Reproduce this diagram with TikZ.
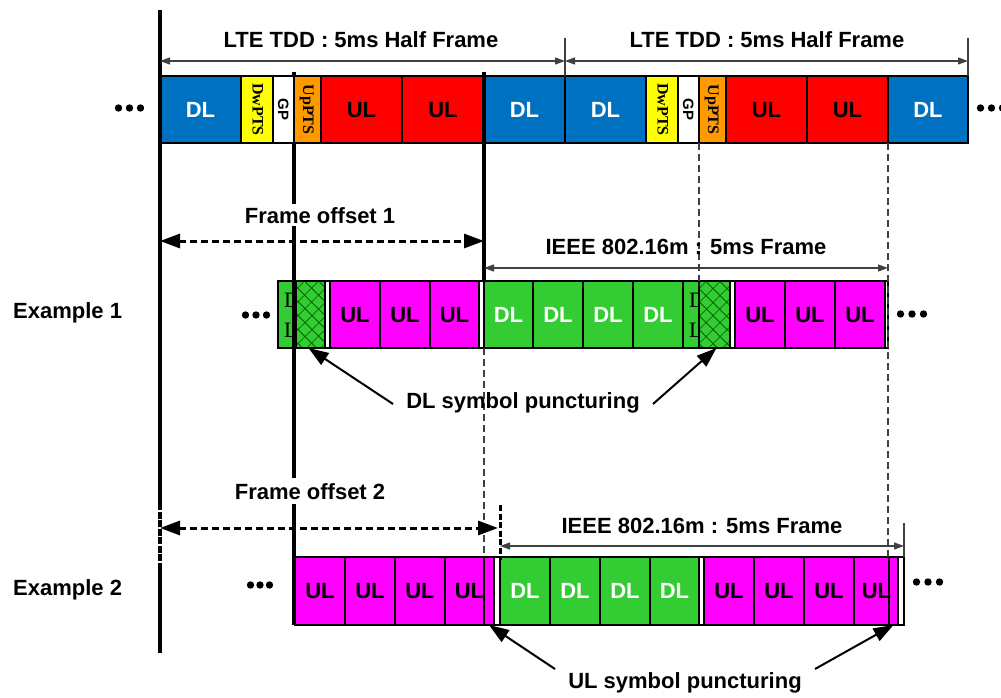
\documentclass[tikz,border=0pt]{standalone}
\usepackage{fontspec}
\setmainfont{Liberation Sans}
\newfontfamily\tnr{Liberation Serif}
\usetikzlibrary{arrows.meta,patterns.meta}
\definecolor{dlblue}{RGB}{0,112,192}
\definecolor{ylw}{RGB}{255,255,0}
\definecolor{orng}{RGB}{255,153,0}
\definecolor{ulred}{RGB}{255,0,0}
\definecolor{lgreen}{RGB}{51,204,51}
\definecolor{mgnt}{RGB}{255,0,255}
\definecolor{hatchcol}{RGB}{0,85,0}
\definecolor{agray}{RGB}{64,64,64}
\newcommand\mkcell[7]{%
  \pgfmathsetmacro\cw{#3-#2}\pgfmathsetmacro\ch{#5-#4}%
  \node[cell,#6,minimum width=\cw pt,minimum height=\ch pt] (#1) at ({(#2+#3)/2},{(#4+#5)/2}) {#7};}
\begin{document}
\begin{tikzpicture}[x=1pt,y=-1pt,
  cell/.style={draw=black,line width=1.2pt,inner sep=0pt,outer sep=0pt,
    font=\bfseries\fontsize{22}{26}\selectfont,text height=15.75pt,text depth=0pt},
  dlst/.style={fill=dlblue,text=white},
  rst/.style={fill=ulred},
  yst/.style={fill=ylw},
  ost/.style={fill=orng},
  wst/.style={fill=white},
  gst/.style={fill=lgreen,text=white},
  mst/.style={fill=mgnt},
  hst/.style={preaction={fill=lgreen},pattern={Hatch[angle=45,distance=10.5pt,line width=0.9pt]},pattern color=hatchcol},
  lbl/.style={font=\bfseries\fontsize{22}{26}\selectfont,inner sep=0pt},
  vser/.style={rotate=-90,font=\tnr\bfseries\fontsize{16}{18}\selectfont,inner sep=0pt,text height=10.6pt,text depth=0pt},
  vsans/.style={rotate=-90,font=\bfseries\fontsize{15}{17}\selectfont,inner sep=0pt,text height=10.7pt,text depth=0pt},
  serl/.style={font=\tnr\fontsize{22}{26}\selectfont,inner sep=0pt,anchor=base west},
  vline/.style={line width=3.5pt},
  dline/.style={line width=1.2pt,dash pattern=on 7pt off 4pt,draw=agray},
  tick/.style={line width=1.2pt,draw=agray},
  dimarr/.style={draw=agray,line width=1.2pt,{Triangle[length=10pt,width=7pt]}-{Triangle[length=10pt,width=7pt]}},
  offarr/.style={line width=3pt,dash pattern=on 7pt off 4pt,{Triangle[length=20pt,width=14pt]}-{Triangle[length=20pt,width=14pt]}},
  parr/.style={line width=2pt,-{Triangle[length=20pt,width=14pt]}}
]
\useasboundingbox (0,0) rectangle (1001,698);

% short stub of the line above the top row
\coordinate (l1top) at (294,72);
\coordinate (l1st) at (294,78);
\draw[vline] (l1top) -- (l1st);

% ---------- top row ----------
\mkcell{t1}{160}{241}{76}{143}{dlst}{DL}
\mkcell{t2}{241}{273}{76}{143}{yst}{}
\mkcell{t3}{273}{294}{76}{143}{wst}{}
\mkcell{t4}{294}{321}{76}{143}{ost}{}
\mkcell{t5}{321}{402}{76}{143}{rst}{UL}
\mkcell{t6}{402}{484}{76}{143}{rst}{UL}
\mkcell{t7}{484}{565}{76}{143}{dlst}{DL}
\mkcell{t8}{565}{646}{76}{143}{dlst}{DL}
\mkcell{t9}{646}{678}{76}{143}{yst}{}
\mkcell{t10}{678}{699}{76}{143}{wst}{}
\mkcell{t11}{699}{726}{76}{143}{ost}{}
\mkcell{t12}{726}{807}{76}{143}{rst}{UL}
\mkcell{t13}{807}{888}{76}{143}{rst}{UL}
\mkcell{t14}{888}{968}{76}{143}{dlst}{DL}
\node[vser] (t2l) at ([xshift=1pt]t2.center) {DwPTS};
\node[vsans] (t3l) at (t3.center) {GP};
\node[vser] (t4l) at ([xshift=1pt]t4.center) {UpPTS};
\node[vser] (t9l) at ([xshift=1pt]t9.center) {DwPTS};
\node[vsans] (t10l) at (t10.center) {GP};
\node[vser] (t11l) at ([xshift=1pt]t11.center) {UpPTS};

% ---------- example 1 ----------
\mkcell{a1}{278}{296}{281}{348}{gst}{}
\node[serl] (a1d) at (284,307) {D};
\node[serl] (a1l) at (284,337) {L};
\mkcell{a2}{296}{325}{281}{348}{hst}{}
\mkcell{a3}{325}{330}{281}{348}{wst}{}
\mkcell{a4}{330}{380}{281}{348}{mst}{UL}
\mkcell{a5}{380}{430}{281}{348}{mst}{UL}
\mkcell{a6}{430}{479}{281}{348}{mst}{UL}
\mkcell{a7}{479}{484}{281}{348}{wst}{}
\mkcell{a8}{484}{533}{281}{348}{gst}{DL}
\mkcell{a9}{533}{583}{281}{348}{gst}{DL}
\mkcell{a10}{583}{633}{281}{348}{gst}{DL}
\mkcell{a11}{633}{683}{281}{348}{gst}{DL}
\mkcell{a12}{683}{699}{281}{348}{gst}{}
\node[serl] (a12d) at (689,307) {D};
\node[serl] (a12l) at (689,337) {L};
\mkcell{a13}{699}{730}{281}{348}{hst}{}
\mkcell{a14}{730}{735}{281}{348}{wst}{}
\mkcell{a15}{735}{785}{281}{348}{mst}{UL}
\mkcell{a16}{785}{835}{281}{348}{mst}{UL}
\mkcell{a17}{835}{885}{281}{348}{mst}{UL}
\mkcell{a18}{885}{888}{281}{348}{wst}{}

% ---------- example 2 ----------
\mkcell{b1}{295}{345}{557}{625}{mst}{UL}
\mkcell{b2}{345}{395}{557}{625}{mst}{UL}
\mkcell{b3}{395}{445}{557}{625}{mst}{UL}
\mkcell{b4}{445}{484}{557}{625}{mst}{}
\mkcell{b5}{484}{494}{557}{625}{mst}{}
\node[lbl,text height=15.75pt,text depth=0pt] (b4l) at (469.5,591) {UL};
\mkcell{b6}{494}{500}{557}{625}{wst}{}
\mkcell{b7}{500}{550}{557}{625}{gst}{DL}
\mkcell{b8}{550}{600}{557}{625}{gst}{DL}
\mkcell{b9}{600}{650}{557}{625}{gst}{DL}
\mkcell{b10}{650}{699}{557}{625}{gst}{DL}
\mkcell{b11}{699}{704}{557}{625}{wst}{}
\mkcell{b12}{704}{754}{557}{625}{mst}{UL}
\mkcell{b13}{754}{804}{557}{625}{mst}{UL}
\mkcell{b14}{804}{854}{557}{625}{mst}{UL}
\mkcell{b15}{854}{889}{557}{625}{mst}{}
\mkcell{b16}{889}{898}{557}{625}{mst}{}
\node[lbl,text height=15.75pt,text depth=0pt] (b15l) at (876.5,591) {UL};
\mkcell{b17}{898}{904}{557}{625}{wst}{}

% ---------- vertical guide lines ----------
\coordinate (l0a) at (160,10);
\coordinate (l0b) at (160,503);
\coordinate (l0c) at (160,563);
\coordinate (l0d) at (160,653);
\draw[vline] (l0a) -- (l0b);
\draw[vline,dash pattern=on 7pt off 1.5pt] (l0b) -- (l0c);
\draw[vline] (l0c) -- (l0d);
\coordinate (l1mid) at (294,143);
\coordinate (l1bot) at (294,625);
\draw[vline] (l1mid) -- (l1bot);
\coordinate (l2a) at (484,72);
\coordinate (l2b) at (484,281);
\draw[vline] (l2a) -- (l2b);
\coordinate (d1a) at (699,143);
\coordinate (d1b) at (699,281);
\draw[dline] (d1a) -- (d1b);
\coordinate (d2a) at (888,143);
\coordinate (d2b) at (888,557);
\draw[dline] (d2a) -- (d2b);
\coordinate (d3a) at (484,348);
\coordinate (d3b) at (484,557);
\draw[dline] (d3a) -- (d3b);
\coordinate (tk1a) at (565,38);
\coordinate (tk1b) at (565,76);
\draw[tick] (tk1a) -- (tk1b);
\coordinate (tk2a) at (968,38);
\coordinate (tk2b) at (968,76);
\draw[tick] (tk2a) -- (tk2b);
\coordinate (tk3a) at (904,523);
\coordinate (tk3b) at (904,557);
\draw[tick] (tk3a) -- (tk3b);
\coordinate (tk4a) at (500,505);
\coordinate (tk4b) at (500,560);
\draw[line width=3pt,dash pattern=on 6pt off 2.5pt] (tk4a) -- (tk4b);

% ---------- labels ----------
\node[lbl,anchor=base] (hf1t) at (361,48) {LTE TDD : 5ms Half Frame};
\node[lbl,anchor=base] (hf2t) at (767,48) {LTE TDD : 5ms Half Frame};
\node[lbl,anchor=base,fill=white,inner sep=3pt] (fo1t) at (320,223) {Frame offset 1};
\node[lbl,anchor=base] (ie1t) at (686,254) {IEEE 802.16m : 5ms Frame};
\node[lbl,anchor=base,fill=white,inner sep=5pt] (fo2t) at (310,499) {Frame offset 2};
\node[lbl,anchor=base] (ie2t) at (702,533) {IEEE 802.16m : 5ms Frame};
\node[lbl,anchor=base] (dlp) at (523,408) {DL symbol puncturing};
\node[lbl,anchor=base] (ulp) at (685,688) {UL symbol puncturing};
\node[lbl,anchor=base west] (ex1) at (13,318) {Example 1};
\node[lbl,anchor=base west] (ex2) at (13,595) {Example 2};

% ---------- dimension arrows ----------
\coordinate (hfa) at (160,61);
\coordinate (hfb) at (565,61);
\coordinate (hfc) at (968,61);
\draw[dimarr] (hfa) -- (hfb);
\draw[dimarr] (hfb) -- (hfc);
\coordinate (iea) at (484,268);
\coordinate (ieb) at (888,268);
\draw[dimarr] (iea) -- (ieb);
\coordinate (iec) at (500,546);
\coordinate (ied) at (904,546);
\draw[dimarr] (iec) -- (ied);
\coordinate (foa) at (160,241);
\coordinate (fob) at (484,241);
\draw[offarr] (foa) -- (fob);
\coordinate (foc) at (160,528);
\coordinate (fod) at (498,528);
\draw[offarr] (foc) -- (fod);

% ---------- puncturing arrows ----------
\coordinate (dlpl) at (393,404);
\coordinate (dlpr) at (653,404);
\draw[parr] (dlpl) -- ([xshift=-2pt]a2.south);
\draw[parr] (dlpr) -- ([xshift=2pt]a13.south);
\coordinate (ulpl) at (555,669);
\coordinate (ulpr) at (815,669);
\draw[parr] (ulpl) -- (b5.south);
\draw[parr] (ulpr) -- (b16.south);

% ---------- ellipsis dots ----------
\foreach \cx/\cy in {118.5/108,129.5/108,140.5/108,980.5/108,991.5/108,1002.5/108,
  245.5/315,256/315,266.5/315,900.5/314,912/314,923.5/314,
  250.5/585,260/585,269.5/585,916.5/582,928/582,939.5/582}
  \fill (\cx,\cy) circle (3.7pt);
\end{tikzpicture}
\end{document}
